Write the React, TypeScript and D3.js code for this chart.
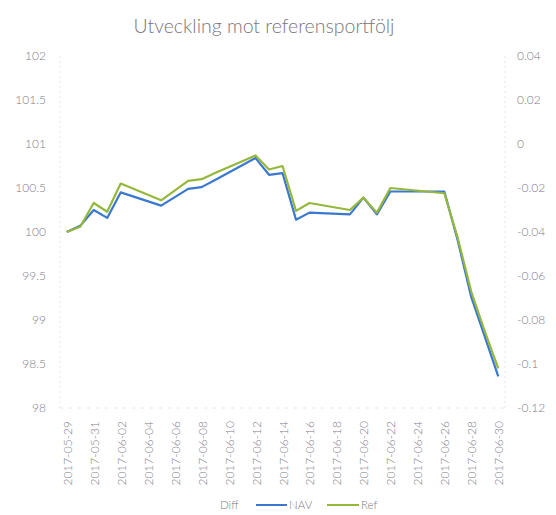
import React, { useEffect, useRef } from 'react'
import * as d3 from 'd3'

// trading days (06-06 and 06-23 are holidays)
const dates = [
  '2017-05-29', '2017-05-30', '2017-05-31', '2017-06-01', '2017-06-02',
  '2017-06-05', '2017-06-07', '2017-06-08', '2017-06-09',
  '2017-06-12', '2017-06-13', '2017-06-14', '2017-06-15', '2017-06-16',
  '2017-06-19', '2017-06-20', '2017-06-21', '2017-06-22',
  '2017-06-26', '2017-06-27', '2017-06-28', '2017-06-29', '2017-06-30',
]
const nav = [
  100.0, 100.07, 100.25, 100.16, 100.45,
  100.3, 100.49, 100.51, 100.59,
  100.84, 100.65, 100.67, 100.14, 100.22,
  100.2, 100.39, 100.2, 100.46,
  100.46, 99.9, 99.26, 98.81, 98.36,
]
const ref = [
  100.0, 100.06, 100.33, 100.23, 100.55,
  100.36, 100.58, 100.6, 100.67,
  100.87, 100.71, 100.75, 100.24, 100.33,
  100.25, 100.39, 100.22, 100.5,
  100.44, 99.93, 99.32, 98.87, 98.45,
]
const leftTicks = [98, 98.5, 99, 99.5, 100, 100.5, 101, 101.5, 102]
const rightTicks = [0.04, 0.02, 0, -0.02, -0.04, -0.06, -0.08, -0.1, -0.12]
const xLabels = [
  '2017-05-29', '2017-05-31', '2017-06-02', '2017-06-04', '2017-06-06',
  '2017-06-08', '2017-06-10', '2017-06-12', '2017-06-14', '2017-06-16',
  '2017-06-18', '2017-06-20', '2017-06-22', '2017-06-24', '2017-06-26',
  '2017-06-28', '2017-06-30',
]

const W = 556
const H = 515
const FONT = 'Lato, "Open Sans", sans-serif'
const TEXT = '#807b87'

export default function App() {
  const ref1 = useRef<SVGSVGElement>(null)

  useEffect(() => {
    const svg = d3.select(ref1.current)
    svg.selectAll('*').remove()

    const parse = d3.timeParse('%Y-%m-%d')
    const days = dates.map(d => parse(d) as Date)
    const start = d3.timeHour.offset(parse('2017-05-29') as Date, -12)
    const end = d3.timeHour.offset(parse('2017-06-30') as Date, 12)

    const x = d3.scaleTime().domain([start, end]).range([60, 505])
    const y = d3.scaleLinear().domain([98, 102]).range([408, 56])
    const y2 = d3.scaleLinear().domain([-0.12, 0.04]).range([408, 56])

    svg.append('text')
      .attr('x', 264).attr('y', 33)
      .attr('text-anchor', 'middle')
      .style('font-family', FONT).style('font-size', '19.5px').style('font-weight', 300)
      .style('fill', '#7a7580')
      .text('Utveckling mot referensportfölj')

    // faint axis lines
    const axisCol = '#e6e6ea'
    svg.append('line').attr('x1', 60).attr('x2', 60).attr('y1', 56).attr('y2', 408)
      .style('stroke', axisCol).style('stroke-dasharray', '2,3')
    svg.append('line').attr('x1', 505).attr('x2', 505).attr('y1', 56).attr('y2', 408)
      .style('stroke', axisCol).style('stroke-dasharray', '2,3')
    svg.append('line').attr('x1', 60).attr('x2', 505).attr('y1', 408).attr('y2', 408)
      .style('stroke', axisCol).style('stroke-dasharray', '3,6')

    svg.selectAll('text.l')
      .data(leftTicks)
      .enter().append('text')
      .attr('class', 'l')
      .attr('x', 46).attr('y', d => y(d) + 4)
      .attr('text-anchor', 'end')
      .style('font-family', FONT).style('font-size', '12px').style('font-weight', 300).style('fill', TEXT)
      .text(d => String(d))

    svg.selectAll('text.r')
      .data(rightTicks)
      .enter().append('text')
      .attr('class', 'r')
      .attr('x', 517).attr('y', d => y2(d) + 4)
      .attr('text-anchor', 'start')
      .style('font-family', FONT).style('font-size', '12px').style('font-weight', 300).style('fill', TEXT)
      .text(d => (d === 0 ? '0' : String(d)))

    svg.selectAll('text.x')
      .data(xLabels)
      .enter().append('text')
      .attr('class', 'x')
      .attr('transform', d => `translate(${x(parse(d) as Date) + 5},421) rotate(-90)`)
      .attr('text-anchor', 'end')
      .style('font-family', FONT).style('font-size', '12px').style('font-weight', 300).style('fill', TEXT)
      .text(d => d)

    const line = (vals: number[]) =>
      d3.line<number>().x((_, i) => x(days[i])).y(d => y(d))(vals)

    svg.append('path').attr('d', line(nav))
      .style('fill', 'none').style('stroke', '#3a78d0').style('stroke-width', 2.2)
      .style('stroke-linejoin', 'round')
    svg.append('path').attr('d', line(ref))
      .style('fill', 'none').style('stroke', '#95b83c').style('stroke-width', 2.2)
      .style('stroke-linejoin', 'round')

    // legend
    const lg = svg.append('g').style('font-family', FONT).style('font-size', '11.5px')
      .style('font-weight', 300).style('fill', TEXT)
    lg.append('text').attr('x', 220).attr('y', 509).text('Diff')
    lg.append('line').attr('x1', 256).attr('x2', 287).attr('y1', 505).attr('y2', 505)
      .style('stroke', '#3a78d0').style('stroke-width', 2)
    lg.append('text').attr('x', 289).attr('y', 509).text('NAV')
    lg.append('line').attr('x1', 327).attr('x2', 359).attr('y1', 505).attr('y2', 505)
      .style('stroke', '#95b83c').style('stroke-width', 2)
    lg.append('text').attr('x', 361).attr('y', 509).text('Ref')
  }, [])

  return (
    <div>
      <svg ref={ref1} width={W} height={H} style={{ position: 'absolute', left: 0, top: 0 }} />
    </div>
  )
}
